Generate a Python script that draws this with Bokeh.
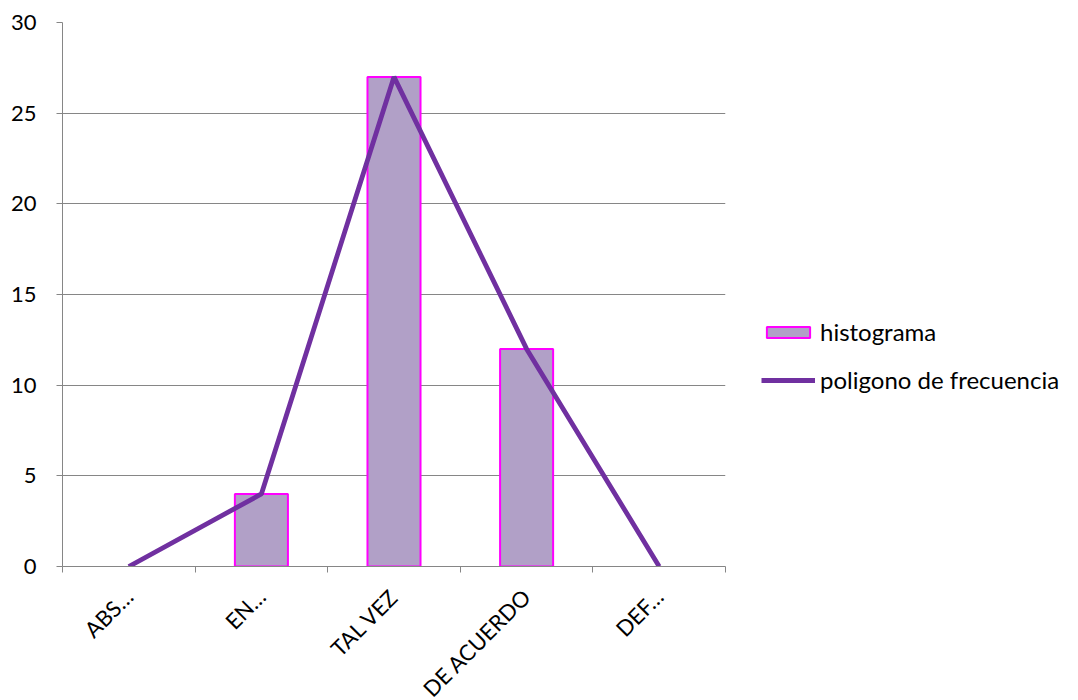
from bokeh.plotting import figure
from bokeh.models import FixedTicker, Legend, LegendItem, ColumnDataSource, Range1d
from bokeh.embed import file_html
from bokeh.resources import INLINE
import math

categories = ["ABS…", "EN…", "TAL VEZ", "DE ACUERDO", "DEF…"]
histograma = [0, 4, 27, 12, 0]
poligono = [0, 4, 27, 12, 0]
y_ticks = [0, 5, 10, 15, 20, 25, 30]

FONT = "Lato"
GRID = "#868686"

centers = [i + 0.5 for i in range(len(categories))]
bounds = list(range(len(categories) + 1))
# empty bins get no outline
outline_alpha = [1 if v > 0 else 0 for v in histograma]

src = ColumnDataSource(dict(x=centers, hist=histograma, poly=poligono, la=outline_alpha))

p = figure(frame_width=663, frame_height=544, output_backend="svg", toolbar_location=None,
           x_range=Range1d(0, len(categories)), y_range=Range1d(0, 30),
           min_border_left=62, min_border_right=0, min_border_top=22, min_border_bottom=0)
p.outline_line_color = None
p.background_fill_color = "white"
p.border_fill_color = "white"

bars = p.vbar(x="x", top="hist", width=0.4, bottom=0, source=src,
              fill_color="#B1A0C7", line_color="#FF00FF", line_width=2, line_alpha="la")
line = p.line(x="x", y="poly", source=src, line_color="#7030A0", line_width=4.8)

# x axis: labels at category centres, tick marks at category boundaries
xt = FixedTicker(ticks=centers, minor_ticks=bounds)
p.xaxis.ticker = xt
p.xaxis.major_label_overrides = {c: lab for c, lab in zip(centers, categories)}
p.xaxis.major_tick_out = 0
p.xaxis.major_tick_in = 0
p.xaxis.minor_tick_out = 6
p.xaxis.minor_tick_in = 0
p.xaxis.minor_tick_line_color = GRID
p.xaxis.axis_line_color = GRID
p.xaxis.major_label_orientation = math.pi / 4
p.xaxis.major_label_text_font = FONT
p.xaxis.major_label_text_font_size = "22px"
p.xaxis.major_label_text_color = "black"
p.xaxis.major_label_standoff = 20

p.yaxis.ticker = FixedTicker(ticks=y_ticks)
p.yaxis.major_tick_out = 6
p.yaxis.major_tick_in = 0
p.yaxis.minor_tick_line_color = None
p.yaxis.major_tick_line_color = GRID
p.yaxis.axis_line_color = GRID
p.yaxis.major_label_text_font = FONT
p.yaxis.major_label_text_font_size = "22px"
p.yaxis.major_label_text_color = "black"
p.yaxis.major_label_standoff = 20

p.xgrid.grid_line_color = None
p.ygrid.grid_line_color = GRID
p.ygrid.grid_line_width = 1.2

legend = Legend(items=[LegendItem(label="histograma", renderers=[bars], index=2),
                       LegendItem(label="poligono de frecuencia", renderers=[line])],
                location=(36, 172), glyph_width=54, glyph_height=14,
                label_standoff=5, label_height=24, spacing=19,
                label_text_font=FONT, label_text_font_size="24px",
                label_text_color="black",
                border_line_color=None, background_fill_alpha=0, padding=0, margin=0)
p.add_layout(legend, "right")

open("out.html", "w").write(file_html(p, INLINE))
